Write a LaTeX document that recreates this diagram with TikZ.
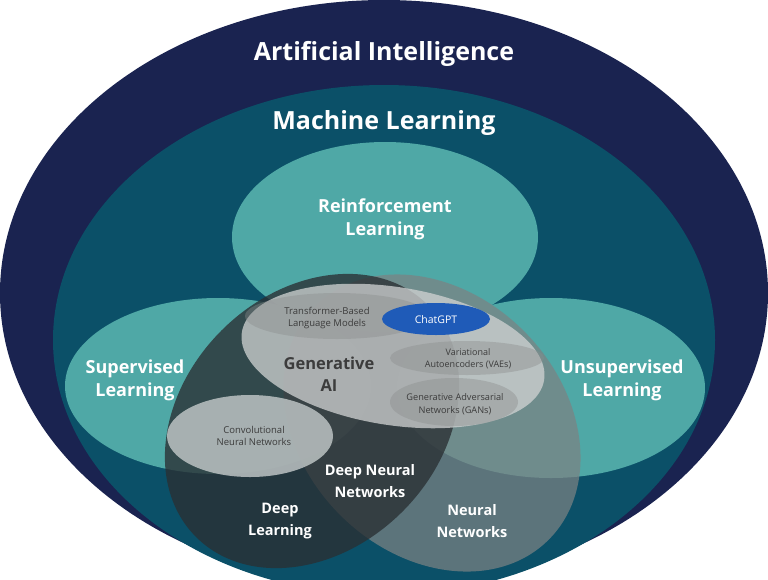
\documentclass[tikz,border=0pt]{standalone}
\usepackage{fontspec}
\setmainfont{Open Sans}
\definecolor{navy}{HTML}{1A2350}
\definecolor{mlteal}{HTML}{0B5068}
\definecolor{ltteal}{HTML}{4FA8A6}
\definecolor{dlgray}{HTML}{2A2F33}
\definecolor{nngray}{HTML}{7C8283}
\definecolor{gengray}{HTML}{D2D4D4}
\definecolor{subgray}{HTML}{8A8C8C}
\definecolor{cnngray}{HTML}{BCC3C3}
\definecolor{chatblue}{HTML}{1F5BB8}
\definecolor{txtgray}{HTML}{3C3C3C}
\begin{document}
\begin{tikzpicture}[x=1pt,y=-1pt,
  title/.style={text=white,font=\bfseries\fontsize{25}{30}\selectfont},
  mid/.style={text=white,align=center,font=\bfseries\fontsize{18}{23}\selectfont},
  dark/.style={text=txtgray,align=center,font=\bfseries\fontsize{16.5}{22}\selectfont},
  low/.style={text=white,align=center,font=\bfseries\fontsize{14.5}{22}\selectfont},
  small/.style={text=txtgray,align=center,font=\fontsize{9.5}{12.5}\selectfont},
  region/.style={opacity=#1},
  region/.default=1]
\clip (0,0) rectangle (768,579);
% nested sets
\fill[navy] (384,293) ellipse [x radius=384, y radius=293];
\fill[mlteal] (384,340) ellipse [x radius=331, y radius=255];
\fill[ltteal] (385,237) ellipse [x radius=153, y radius=95];
\fill[ltteal] (218,386) ellipse [x radius=153, y radius=88];
\fill[ltteal] (551,388) ellipse [x radius=154, y radius=90];
% neural networks and deep learning
\fill[nngray, region=0.72, rotate around={-45:(432,423)}] (432,423) ellipse [x radius=165, y radius=130];
\fill[dlgray, region=0.78, rotate around={45:(312,421)}] (312,421) ellipse [x radius=164, y radius=128];
% generative AI
\fill[gengray, region=0.75, rotate around={-9:(393,356)}] (393,356) ellipse [x radius=153, y radius=69];
\fill[subgray, region=0.4] (337,316) ellipse [x radius=92, y radius=23];
\fill[chatblue] (436,319) ellipse [x radius=54, y radius=16];
\fill[subgray, region=0.4] (467,358) ellipse [x radius=77, y radius=17];
\fill[subgray, region=0.4] (454,402) ellipse [x radius=64, y radius=24];
\fill[cnngray, region=0.85] (250,436) ellipse [x radius=83, y radius=41];
% labels
\node[title] (ai) at (384,54) {Artificial Intelligence};
\node[title] (ml) at (384,123) {Machine Learning};
\node[mid] (rl) at (385,219) {Reinforcement\\Learning};
\node[mid] (sl) at (135,380) {Supervised\\Learning};
\node[mid] (ul) at (622,380) {Unsupervised\\Learning};
\node[dark] (gen) at (329,374) {Generative\\AI};
\node[small] (tr) at (327,318) {Transformer-Based\\Language Models};
\node[text=white,font=\fontsize{10.5}{12}\selectfont] (gpt) at (436,320) {ChatGPT};
\node[small,font=\fontsize{9}{12.5}\selectfont] (vae) at (468,359) {Variational\\Autoencoders (VAEs)};
\node[small,font=\fontsize{9.2}{12.5}\selectfont] (gan) at (455,404) {Generative Adversarial\\Networks (GANs)};
\node[small] (cnn) at (254,436) {Convolutional\\Neural Networks};
\node[low] (dnn) at (370,481) {Deep Neural\\Networks};
\node[low] (dl) at (280,521) {Deep\\Learning};
\node[low] (nn) at (472,521) {Neural\\Networks};
\end{tikzpicture}
\end{document}
